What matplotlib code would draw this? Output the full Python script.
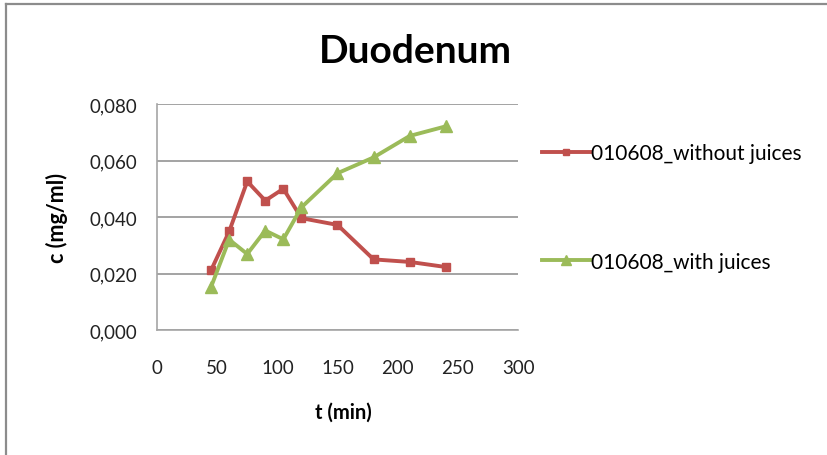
import matplotlib.pyplot as plt
from matplotlib.lines import Line2D
from matplotlib.ticker import FuncFormatter

t_min = [45, 60, 75, 90, 105, 120, 150, 180, 210, 240]
without_juices = [0.0212, 0.0349, 0.0526, 0.0458, 0.0500, 0.0396, 0.0372, 0.0250, 0.0241, 0.0223]
with_juices = [0.0153, 0.0320, 0.0269, 0.0352, 0.0321, 0.0434, 0.0555, 0.0611, 0.0687, 0.0721]
series_names = ["010608_without juices", "010608_with juices"]

plt.rcParams['font.family'] = ['Lato', 'DejaVu Sans']

red = "#C0504D"
green = "#9BBB59"
grid_grey = "#8a8a8a"

fig = plt.figure(figsize=(8.27, 4.56), dpi=100)
ax = fig.add_axes([0.1898, 0.2741, 0.4366, 0.4956])

ax.plot(t_min, without_juices, color=red, lw=2.8, marker='s', ms=6, mec=red)
ax.plot(t_min, with_juices, color=green, lw=2.8, marker='^', ms=9, mec=green)

ax.set_xlim(0, 300)
ax.set_ylim(0, 0.08)
ax.set_xticks(range(0, 301, 50))
ax.set_yticks([0, 0.02, 0.04, 0.06, 0.08])
ax.yaxis.set_major_formatter(FuncFormatter(lambda v, p: f"{v:.3f}".replace('.', ',')))
ax.tick_params(length=0, labelsize=13.5, colors="#222222")
ax.tick_params(axis='y', pad=14)
ax.tick_params(axis='x', pad=21)
ax.grid(axis='y', color=grid_grey, lw=1.1)
ax.set_axisbelow(True)
for s in ['top', 'right']:
    ax.spines[s].set_visible(False)
for s in ['left', 'bottom']:
    ax.spines[s].set_color("#a6a6a6")
    ax.spines[s].set_linewidth(1.2)

fig.text(0.502, 0.886, "Duodenum", ha='center', va='center', fontsize=28, fontweight='bold')
fig.text(0.069, 0.522, "c (mg/ml)", ha='center', va='center', rotation=90, fontsize=15.5, fontweight='bold')
fig.text(0.415, 0.094, "t (min)", ha='center', va='center', fontsize=14.5, fontweight='bold')

handles = [Line2D([], [], color=red, lw=2.8, marker='s', ms=5),
           Line2D([], [], color=green, lw=2.8, marker='^', ms=7)]
leg = fig.legend(handles, series_names, loc='upper left', bbox_to_anchor=(0.645, 0.702),
                 frameon=False, fontsize=15, handlelength=2.3, handletextpad=0.05,
                 labelspacing=4.25, borderaxespad=0)

# outer chart frame (only top and left edges show)
fig.add_artist(Line2D([0.0073, 0.0073], [0, 0.989], color="#8c8c8c", lw=1.6))
fig.add_artist(Line2D([0.0073, 1.0], [0.989, 0.989], color="#8c8c8c", lw=1.6))

fig.savefig("out.png", dpi=100)
